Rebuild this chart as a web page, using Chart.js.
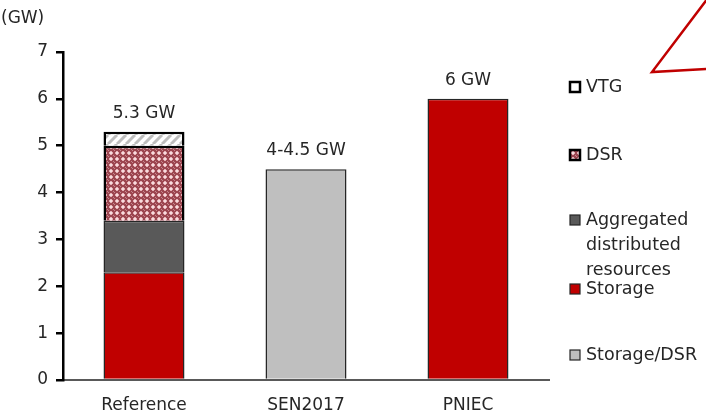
<!DOCTYPE html>
<html>
<head>
<meta charset="utf-8">
<script src="https://cdn.jsdelivr.net/npm/chart.js@4.4.1/dist/chart.umd.min.js"></script>
<style>
  html, body { margin: 0; padding: 0; background: #fff; }
  #wrap { width: 706px; height: 417px; }
</style>
</head>
<body>
<div id="wrap"><canvas id="capacity"></canvas></div>
<script>
const categories = ["Reference", "SEN2017", "PNIEC"];
const storageDsr = [null, 4.5, null];
const storage = [2.3, null, 6];
const aggregated = [1.1, null, null];
const dsr = [1.6, null, null];
const vtg = [0.3, null, null];
const totalLabels = ["5.3 GW", "4-4.5 GW", "6 GW"];
const yTicks = [0, 1, 2, 3, 4, 5, 6, 7];

const FONT = "DejaVu Sans";

function dsrPattern(){
  let c = document.createElement("canvas");
  c.width = 6; c.height = 6;
  let g = c.getContext("2d");
  g.fillStyle = "#9c4650";
  g.fillRect(0, 0, 6, 6);
  g.fillStyle = "#e4b0b6";
  g.fillRect(2, 1, 2, 4);
  g.fillRect(1, 2, 4, 2);
  g.fillStyle = "#f6dcde";
  g.fillRect(2, 2, 2, 2);
  g.fillStyle = "#c88890";
  g.fillRect(5, 5, 1, 1);
  g.fillRect(0, 0, 1, 1);
  return g.createPattern(c, "repeat");
}

function vtgPattern(){
  let c = document.createElement("canvas");
  c.width = 9; c.height = 9;
  let g = c.getContext("2d");
  g.fillStyle = "#ffffff";
  g.fillRect(0, 0, 9, 9);
  g.strokeStyle = "#bdbdbd";
  g.lineWidth = 3;
  for (let k = -9; k <= 18; k += 9) {
    g.beginPath();
    g.moveTo(k, 9);
    g.lineTo(k + 9, 0);
    g.stroke();
  }
  return g.createPattern(c, "repeat");
}

const dsrFill = dsrPattern();
const vtgFill = vtgPattern();

const legendItems = [
  { text: ["VTG"], fill: "#ffffff", border: "#000", bw: 2.5, y: 87 },
  { text: ["DSR"], fill: dsrFill, border: "#000", bw: 2.5, y: 155 },
  { text: ["Aggregated", "distributed", "resources"], fill: "#595959", border: "#262626", bw: 1.2, y: 220 },
  { text: ["Storage"], fill: "#c00000", border: "#262626", bw: 1.2, y: 289 },
  { text: ["Storage/DSR"], fill: "#bfbfbf", border: "#262626", bw: 1.2, y: 355 }
];

const decorations = {
  id: "decorations",
  afterDraw(chart){
    let ctx = chart.ctx;
    let area = chart.chartArea;
    ctx.save();

    // axis unit
    ctx.fillStyle = "#262626";
    ctx.font = "17px '" + FONT + "'";
    ctx.textAlign = "left";
    ctx.textBaseline = "middle";
    ctx.fillText("(GW)", 1, 19);

    // totals above each bar
    ctx.textAlign = "center";
    ctx.textBaseline = "alphabetic";
    categories.forEach(function(cat, i){
      let top = null, x = null;
      chart.data.datasets.forEach(function(ds, di){
        if (ds.data[i] == null) return;
        let el = chart.getDatasetMeta(di).data[i];
        if (top == null || el.y < top) top = el.y;
        x = el.x;
      });
      ctx.fillText(totalLabels[i], x, top - 14);
    });

    // legend
    let bx = area.right + 21;
    legendItems.forEach(function(item){
      ctx.fillStyle = item.fill;
      ctx.fillRect(bx, item.y - 5, 10, 10);
      ctx.strokeStyle = item.border;
      ctx.lineWidth = item.bw;
      ctx.strokeRect(bx, item.y - 5, 10, 10);
      ctx.fillStyle = "#262626";
      ctx.font = "17.5px '" + FONT + "'";
      ctx.textAlign = "left";
      ctx.textBaseline = "middle";
      item.text.forEach(function(line, li){
        ctx.fillText(line, bx + 16, item.y + li * 25);
      });
    });

    // red callout corner
    ctx.strokeStyle = "#c00000";
    ctx.lineWidth = 2.5;
    ctx.lineJoin = "miter";
    ctx.beginPath();
    ctx.moveTo(708, -2);
    ctx.lineTo(652, 72);
    ctx.lineTo(708, 69);
    ctx.stroke();
    ctx.restore();
  }
};

function createChart(name){
  let ctx = document.getElementById(name);
  new Chart(ctx, {
    type: "bar",
    data: {
      labels: categories,
      datasets: [
        { label: "Storage/DSR", data: storageDsr, backgroundColor: "#bfbfbf", borderColor: "#262626", borderWidth: 1.5 },
        { label: "Storage", data: storage, backgroundColor: "#c00000", borderColor: "#262626", borderWidth: 1.5 },
        { label: "Aggregated distributed resources", data: aggregated, backgroundColor: "#595959", borderColor: "#262626", borderWidth: 1.5 },
        { label: "DSR", data: dsr, backgroundColor: dsrFill, borderColor: "#000", borderWidth: 2.5 },
        { label: "VTG", data: vtg, backgroundColor: vtgFill, borderColor: "#000", borderWidth: 2.5 }
      ]
    },
    options: {
      responsive: true,
      maintainAspectRatio: false,
      animation: false,
      layout: { padding: { top: 52, right: 157, left: 0, bottom: 0 } },
      plugins: {
        legend: { display: false },
        tooltip: { enabled: false }
      },
      datasets: {
        bar: { categoryPercentage: 1, barPercentage: 0.5, skipNull: false }
      },
      scales: {
        x: {
          stacked: true,
          grid: { display: false },
          border: { display: true, color: "#595959", width: 2 },
          ticks: { color: "#262626", font: { family: FONT, size: 17 }, padding: 7 },
          afterFit: function(scale){ scale.height = 37; }
        },
        y: {
          stacked: true,
          min: 0,
          max: 7,
          afterBuildTicks: function(scale){
            scale.ticks = yTicks.map(function(v){ return { value: v }; });
          },
          grid: { display: true, drawOnChartArea: false, drawTicks: true, tickLength: 7, color: "#000", lineWidth: 2.5 },
          border: { display: true, color: "#000", width: 2.5 },
          ticks: { color: "#262626", font: { family: FONT, size: 17 }, padding: 8 },
          afterFit: function(scale){ scale.width = 63; }
        }
      }
    },
    plugins: [decorations]
  });
}

createChart("capacity");
</script>
</body>
</html>
